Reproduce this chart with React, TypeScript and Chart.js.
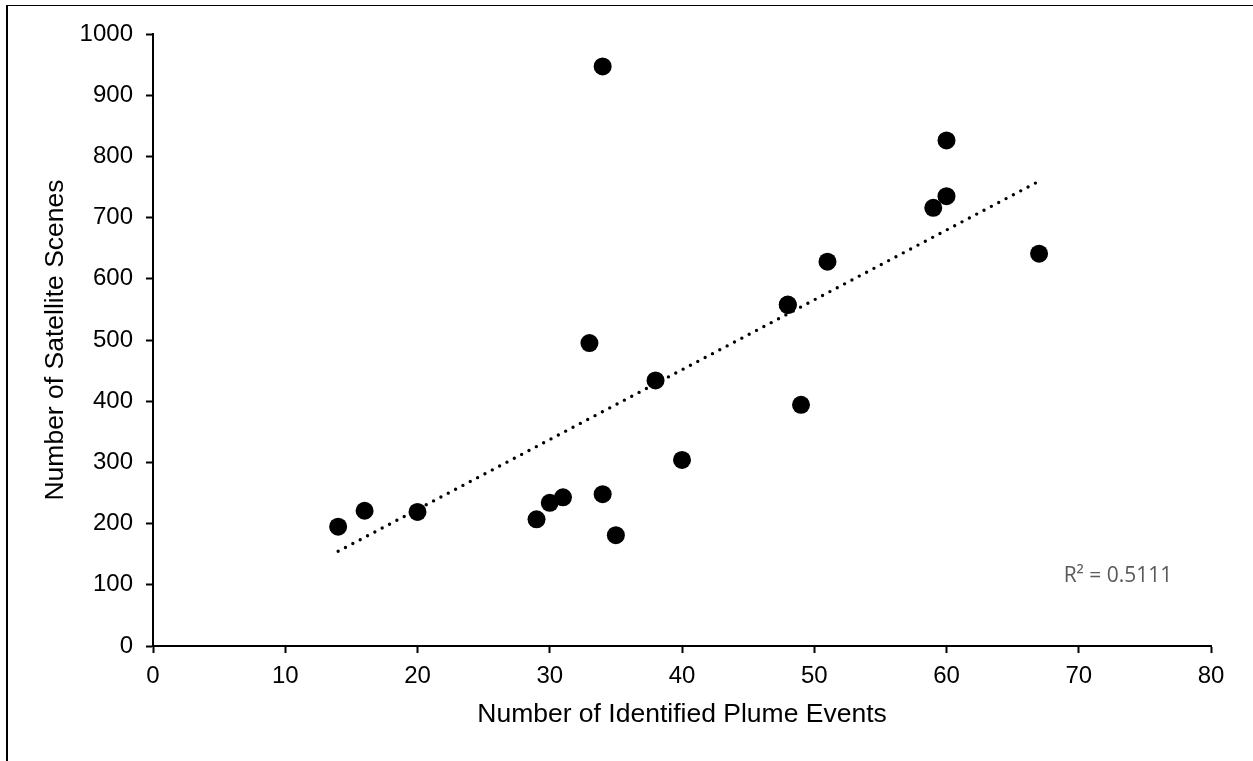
import React, { useEffect, useRef } from "react";
import { Chart, registerables } from "chart.js";

Chart.register(...registerables);

const plumeEvents = [14, 16, 20, 29, 30, 31, 33, 34, 34, 35, 38, 40, 48, 48, 49, 51, 59, 60, 60, 67];
const satelliteScenes = [195, 221, 219, 207, 234, 243, 495, 947, 248, 181, 434, 304, 557, 558, 394, 628, 716, 735, 826, 641];
const xTicks = [0, 10, 20, 30, 40, 50, 60, 70, 80];
const yTicks = [0, 100, 200, 300, 400, 500, 600, 700, 800, 900, 1000];
const xTitle = "Number of Identified Plume Events";
const yTitle = "Number of Satellite Scenes";
const r2Label = "R² = 0.5111";

function linearFit(xs: number[], ys: number[]) {
  const n = xs.length;
  const mx = xs.reduce((a, b) => a + b, 0) / n;
  const my = ys.reduce((a, b) => a + b, 0) / n;
  let sxy = 0;
  let sxx = 0;
  for (let i = 0; i < n; i++) {
    sxy += (xs[i] - mx) * (ys[i] - my);
    sxx += (xs[i] - mx) * (xs[i] - mx);
  }
  const slope = sxy / sxx;
  const intercept = my - slope * mx;
  return { slope, intercept };
}

export default function App() {
  const canvasRef = useRef<HTMLCanvasElement | null>(null);

  useEffect(() => {
    const canvas = canvasRef.current;
    if (!canvas) return;
    const points = plumeEvents.map((x, i) => ({ x, y: satelliteScenes[i] }));
    const { slope, intercept } = linearFit(plumeEvents, satelliteScenes);
    const xMin = Math.min(...plumeEvents);
    const xMax = Math.max(...plumeEvents);
    const trend = [
      { x: xMin, y: intercept + slope * xMin },
      { x: xMax, y: intercept + slope * xMax },
    ];

    const r2Plugin = {
      id: "r2label",
      afterDraw(chart: any) {
        const ctx = chart.ctx;
        ctx.save();
        ctx.font = "21px 'Open Sans'";
        ctx.fillStyle = "#595959";
        ctx.textAlign = "center";
        ctx.textBaseline = "middle";
        ctx.fillText(r2Label, 1118, 576);
        ctx.restore();
      },
    };

    const tickFont = { family: "'Liberation Sans', Arial, sans-serif", size: 24 };
    const titleFont = { family: "'Liberation Sans', Arial, sans-serif", size: 26.5 };
    const plain = (v: any) => String(v);

    const chart = new Chart(canvas, {
      type: "scatter",
      data: {
        datasets: [
          {
            type: "line",
            data: trend,
            borderColor: "#000",
            borderWidth: 3.4,
            borderDash: [0, 8.3],
            borderCapStyle: "round",
            pointRadius: 0,
            fill: false,
            order: 2,
          } as any,
          {
            data: points,
            backgroundColor: "#000",
            borderColor: "#000",
            borderWidth: 0,
            pointRadius: 9,
            pointHoverRadius: 9,
            order: 1,
          },
        ],
      },
      options: {
        animation: false,
        responsive: false,
        devicePixelRatio: 1,
        layout: { padding: { top: 34, right: 42, bottom: 0, left: 0 } },
        plugins: { legend: { display: false }, tooltip: { enabled: false } },
        scales: {
          x: {
            type: "linear",
            min: 0,
            max: 80,
            afterBuildTicks: (scale: any) => {
              scale.ticks = xTicks.map((v) => ({ value: v }));
            },
            afterFit: (scale: any) => {
              scale.height = 115;
            },
            ticks: { color: "#000", font: tickFont, padding: 9, maxRotation: 0, callback: plain },
            grid: {
              display: true,
              drawOnChartArea: false,
              drawTicks: true,
              tickLength: 7,
              tickWidth: 2,
              tickColor: "#000",
            },
            border: { display: true, color: "#000", width: 2 },
            title: {
              display: true,
              text: xTitle,
              color: "#000",
              font: titleFont,
              padding: { top: 0, bottom: 30 },
            },
          },
          y: {
            type: "linear",
            min: 0,
            max: 1000,
            afterBuildTicks: (scale: any) => {
              scale.ticks = yTicks.map((v) => ({ value: v }));
            },
            afterFit: (scale: any) => {
              scale.width = 153;
            },
            ticks: { color: "#000", font: tickFont, padding: 13, callback: plain },
            grid: {
              display: true,
              drawOnChartArea: false,
              drawTicks: true,
              tickLength: 7,
              tickWidth: 2,
              tickColor: "#000",
            },
            border: { display: true, color: "#000", width: 2 },
            title: {
              display: true,
              text: yTitle,
              color: "#000",
              font: titleFont,
              padding: { top: 40, bottom: 0 },
            },
          },
        },
      } as any,
      plugins: [r2Plugin],
    });

    return () => {
      chart.destroy();
    };
  }, []);

  return (
    <div style={{ position: "absolute", left: 0, top: 0, width: 1253, height: 761, overflow: "hidden", background: "#fff" }}>
      <div
        style={{
          position: "absolute",
          left: 6,
          top: 5,
          width: 1300,
          height: 800,
          borderTop: "1px solid #000",
          borderLeft: "2px solid #000",
        }}
      />
      <canvas
        ref={canvasRef}
        width={1253}
        height={761}
        style={{ position: "absolute", left: 0, top: 0, width: 1253, height: 761 }}
      />
    </div>
  );
}
